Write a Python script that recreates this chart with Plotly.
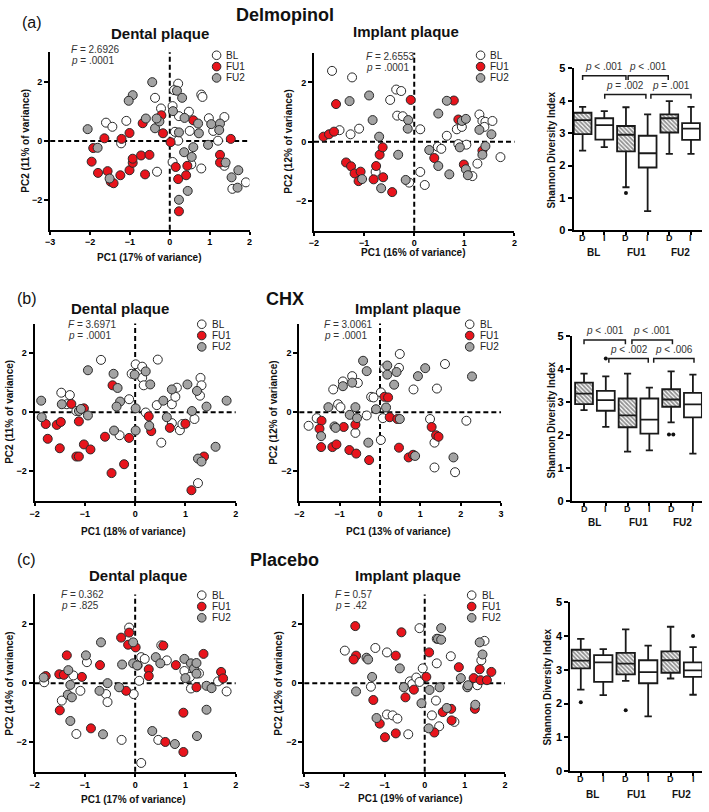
import plotly.graph_objects as go

W, H = 709, 812
FONT = "Arial, Liberation Sans, Helvetica, sans-serif"

# ---------------- scatter data (PC1, PC2) ----------------
a_dent_bl = [(-1.60,0.62),(-1.44,0.48),(-1.22,-0.08),(-1.09,0.68),(-0.37,1.46),(-0.22,1.10),(-0.32,-1.04),(0.21,1.94),(0.11,1.72),(0.07,1.18),(0.23,0.84),(0.13,0.31),(0.21,0.01),(0.48,0.99),(0.50,0.34),(0.79,1.57),(0.82,1.49),(0.98,0.77),(1.09,0.34),(1.21,0.01),(1.37,0.81),(0.79,-0.93),(0.07,-0.71),(0.54,-0.79),(1.37,-0.84),(1.57,-1.62),(1.91,-1.40)]
a_dent_fu1 = [(-1.64,0.09),(-1.92,-0.24),(-1.96,-0.70),(-1.80,-1.08),(-1.56,-1.02),(-1.48,-1.38),(-1.41,-1.43),(-1.24,-1.16),(-1.21,0.07),(-1.01,0.27),(-1.01,-0.99),(-0.93,-0.74),(-0.93,-0.60),(-0.72,-0.49),(-0.68,0.60),(-0.51,-0.47),(-0.62,-1.13),(-0.21,0.87),(-0.17,0.26),(0.02,-0.04),(0.15,-0.88),(0.21,-1.29),(0.41,-1.16),(0.44,-0.84),(0.59,0.70),(0.23,-2.38),(1.26,-0.47),(1.26,-0.73),(1.53,0.07)]
a_dent_fu2 = [(-0.44,1.99),(-0.93,1.55),(-1.03,1.36),(-2.06,0.40),(-1.81,-0.23),(-1.51,-1.27),(-0.60,0.76),(-0.37,0.43),(-0.26,0.66),(-0.33,0.76),(0.18,1.70),(0.08,1.01),(0.31,1.46),(0.37,0.78),(0.23,0.29),(0.59,-0.21),(0.36,-0.38),(0.55,-0.54),(0.23,-1.99),(0.45,-1.69),(0.71,0.59),(0.73,0.26),(0.96,-0.13),(1.04,0.57),(1.26,0.59),(1.24,0.37),(1.40,-0.73),(1.72,-0.99),(1.55,-1.23),(1.70,-1.58)]

a_impl_bl = [(-1.64,2.39),(-1.24,2.17),(-1.49,0.39),(-1.27,0.25),(-1.10,0.44),(-0.77,-1.02),(-0.48,1.41),(-0.36,1.76),(-0.26,1.71),(-0.34,0.88),(-0.23,0.86),(-0.10,-1.38),(0.12,0.42),(0.12,-1.02),(0.21,-1.46),(0.47,-0.17),(0.54,-0.24),(0.65,0.20),(0.85,0.42),(0.95,0.50),(1.04,-0.10),(1.16,-1.16),(1.26,-0.74),(1.30,0.92),(1.36,0.70),(1.42,0.67),(1.40,0.50),(1.56,0.70),(1.72,-0.52),(0.88,-0.08)]
a_impl_fu1 = [(-1.81,0.17),(-1.70,0.25),(-1.60,0.34),(-1.56,1.27),(-1.36,-0.70),(-1.26,-0.83),(-1.19,-1.07),(-1.07,-1.01),(-1.11,-1.33),(-0.76,-0.82),(-0.81,-1.27),(-0.62,-1.20),(-0.69,-0.44),(-0.63,-0.19),(-0.44,-1.70),(-0.07,1.41),(0.40,-0.55),(0.79,1.39),(0.88,0.75),(0.99,-0.77),(1.36,-0.30)]
a_impl_fu2 = [(-1.29,1.37),(-0.90,1.56),(-0.83,0.73),(-0.70,0.17),(-1.04,-1.26),(-0.66,-1.57),(-0.32,-0.44),(-0.12,0.73),(-0.13,0.44),(-0.17,-1.29),(0.30,-0.28),(0.48,-0.82),(0.48,0.95),(0.65,1.38),(0.70,-1.10),(0.95,0.70),(0.91,-0.19),(1.03,-0.93),(1.07,-1.13),(1.30,0.40),(1.36,-0.44),(1.42,-0.15),(1.54,0.25),(1.03,0.77)]

b_dent_bl = [(-1.47,0.66),(-1.36,0.27),(-1.30,0.58),(-1.17,0.04),(-0.68,1.77),(-0.31,-0.78),(-0.12,0.44),(-0.07,1.30),(0.01,1.62),(0.08,1.36),(0.14,1.54),(0.14,1.16),(0.17,0.91),(0.21,-0.01),(0.43,0.24),(0.45,1.78),(0.52,-1.03),(0.73,0.27),(0.80,0.52),(0.83,0.83),(0.73,-0.37),(0.89,-0.61),(0.94,-0.40),(1.18,-0.23),(1.29,0.56),(1.30,1.16),(1.32,0.91),(1.25,-2.40)]
b_dent_fu1 = [(-1.78,-0.40),(-1.74,-0.90),(-1.56,-0.43),(-1.48,-0.33),(-1.50,-1.22),(-1.27,0.28),(-1.17,-1.50),(-1.12,-1.50),(-1.12,-0.31),(-1.02,0.13),(-1.02,-1.09),(-0.89,-1.26),(-0.60,-0.83),(-0.45,0.91),(-0.47,-2.06),(-0.22,-1.76),(-0.12,-0.87),(0.27,-0.14),(0.32,-0.64),(0.69,-0.53),(1.00,-0.39),(1.12,-2.64),(1.37,-1.50)]
b_dent_fu2 = [(-1.87,0.39),(-1.86,-0.17),(-1.46,0.27),(-1.12,0.04),(-1.08,0.11),(-0.94,-0.11),(-0.94,1.42),(-0.43,1.30),(-0.35,0.82),(-0.30,0.36),(-0.37,0.19),(-0.42,-0.62),(0.01,0.13),(0.01,-0.62),(-0.01,1.27),(0.21,1.38),(0.30,0.94),(0.28,-0.46),(0.56,0.39),(0.63,-0.17),(0.73,0.77),(1.04,0.94),(1.13,0.04),(1.23,0.72),(1.42,0.19),(1.60,-1.17),(1.25,-1.57),(1.32,-1.67),(1.82,0.39)]

b_impl_bl = [(-1.77,-0.46),(-1.57,-0.20),(-1.16,0.77),(-1.04,0.27),(-0.98,0.17),(-0.92,1.04),(-0.69,1.22),(-0.55,0.99),(-0.61,-0.70),(-0.33,-0.11),(-0.22,0.52),(-0.16,0.50),(0.02,-0.94),(0.02,0.67),(0.07,-0.20),(0.11,1.49),(0.47,1.50),(0.49,1.97),(0.83,0.77),(1.41,0.80),(1.61,1.63),(1.24,-0.23),(1.35,-1.03),(1.35,-1.87),(1.86,-2.03),(2.14,-0.29)]
b_impl_fu1 = [(-1.45,-0.29),(-1.50,-0.56),(-1.46,-1.18),(-1.18,-1.18),(-1.08,-1.09),(-0.90,-0.50),(-0.76,-1.28),(-0.61,-0.42),(-0.59,-1.40),(-0.27,-1.62),(0.11,0.52),(0.20,0.50),(0.24,-0.17),(0.47,-1.20),(0.71,-1.53),(0.82,-1.44),(1.28,-0.50),(1.39,-0.78),(1.45,-0.83),(0.43,-0.23)]
b_impl_fu2 = [(-1.28,0.17),(-1.46,-0.81),(-1.13,-0.48),(-1.10,-0.53),(-0.92,0.88),(-0.69,1.00),(-0.42,1.74),(-0.33,1.39),(-0.61,0.17),(-0.75,-0.09),(-0.57,-0.20),(-0.29,-1.03),(-0.10,0.10),(0.15,0.16),(0.18,1.58),(0.18,1.27),(0.35,0.93),(0.41,1.36),(0.49,-0.23),(0.94,1.22),(1.12,1.49),(0.87,-1.48),(1.82,-1.53),(2.28,1.21)]

c_dent_bl = [(-1.81,0.03),(-1.23,0.26),(-1.46,-0.59),(-1.09,-0.26),(-0.96,0.71),(-1.17,-1.72),(-0.58,-0.37),(-0.55,-0.64),(-0.27,-1.92),(-0.03,-0.37),(-0.12,1.88),(0.05,0.60),(0.08,0.08),(0.12,0.88),(0.19,0.82),(0.12,-2.70),(0.52,1.28),(0.63,0.77),(0.46,-1.92),(0.98,0.41),(1.09,0.21),(1.11,-0.18),(1.27,0.33),(1.65,0.06),(1.82,-0.28)]
c_dent_fu1 = [(-1.78,0.24),(-1.36,0.94),(-1.51,0.30),(-1.42,0.28),(-1.50,-0.92),(-1.06,0.21),(-0.70,0.61),(-0.88,-1.53),(-0.28,1.54),(-0.12,1.71),(-0.14,1.30),(0.01,1.21),(-0.18,-0.26),(0.27,0.47),(0.27,0.24),(0.60,-1.99),(0.56,1.27),(0.81,0.61),(0.96,-1.00),(0.96,-2.33),(1.22,-0.14),(1.36,0.99),(1.71,0.38),(1.75,0.16)]
c_dent_fu2 = [(-1.82,0.19),(-1.33,0.44),(-1.29,-0.06),(-1.34,-0.39),(-1.26,-0.48),(-1.29,-1.28),(-0.98,0.94),(-0.68,1.38),(-0.71,-0.26),(-0.55,0.00),(-0.64,-1.73),(-0.26,0.63),(-0.32,-0.14),(-0.04,1.38),(-0.04,0.67),(0.04,0.60),(0.41,0.88),(0.50,0.67),(0.34,-1.62),(0.79,-2.06),(0.98,0.82),(1.00,0.17),(1.11,0.67),(1.17,0.49),(1.22,0.32),(1.23,-1.79),(1.42,-0.90),(1.42,-0.09),(1.52,-0.17),(1.22,0.68)]

c_impl_bl = [(-1.99,1.10),(-1.23,1.19),(-1.34,-0.12),(-0.94,1.04),(-0.94,-1.06),(-0.80,-1.09),(-0.68,-1.20),(-0.41,-1.73),(-0.37,0.06),(-0.31,-0.03),(-0.21,0.19),(-0.13,0.04),(-0.05,0.50),(-0.13,1.86),(0.30,1.50),(0.30,0.67),(0.28,-0.59),(0.18,-1.09),(0.36,-1.46),(0.65,0.91),(0.74,-1.31),(1.31,-0.07),(1.41,0.77),(1.49,1.43)]
c_impl_fu1 = [(-1.73,1.93),(-1.71,0.93),(-1.77,0.80),(-1.28,-0.57),(-1.12,-1.37),(-0.99,-1.83),(-0.72,0.93),(-0.72,-1.70),(-0.58,1.72),(-0.48,-0.48),(-0.27,-0.22),(0.04,0.21),(0.11,1.04),(0.24,-1.67),(0.45,-0.98),(0.66,-0.87),(0.67,-1.26),(0.85,0.54),(1.22,0.17),(1.25,-0.87),(1.37,0.47),(1.39,0.10),(1.55,0.10),(1.66,0.38)]
c_impl_fu2 = [(-1.45,0.86),(-1.41,0.80),(-1.31,0.21),(-1.71,-0.28),(-1.20,-1.18),(-0.62,0.50),(-0.52,-0.14),(-0.08,-0.68),(0.12,-0.23),(0.10,-1.53),(0.37,-0.14),(0.33,1.50),(0.41,1.47),(0.41,1.86),(0.55,-0.84),(0.90,0.17),(1.06,-0.14),(1.08,-0.07),(1.26,-0.73),(1.37,1.38),(1.44,0.97)]

# ---------------- boxplot data (Shannon diversity) ----------------
box_ticks = ["D", "I", "D", "I", "D", "I"]
box_groups = ["BL", "FU1", "FU2"]

a_lo  = [2.46, 2.57, 1.33, 0.59, 2.36, 2.36]
a_q1  = [2.97, 2.80, 2.44, 1.94, 3.02, 2.79]
a_med = [3.40, 3.25, 2.95, 2.38, 3.46, 3.14]
a_q3  = [3.63, 3.46, 3.22, 2.92, 3.58, 3.31]
a_hi  = [3.81, 3.68, 3.80, 3.58, 3.99, 3.81]
a_out_pos = [2]
a_out_val = [1.15]
a_br_left  = [0.0, 2.1, 1.02, 3.15]
a_br_right = [2.0, 3.95, 2.92, 5.0]
a_br_y     = [4.77, 4.77, 4.19, 4.19]
a_br_text  = ["<i>p</i> < .001", "<i>p</i> < .001", "<i>p</i> = .002", "<i>p</i> = .001"]

b_lo  = [2.76, 2.25, 1.50, 1.54, 2.39, 1.44]
b_q1  = [2.94, 2.74, 2.24, 2.05, 2.86, 2.54]
b_med = [3.26, 3.06, 2.60, 2.47, 3.08, 2.93]
b_q3  = [3.59, 3.34, 3.11, 3.11, 3.39, 3.28]
b_hi  = [3.86, 3.78, 3.86, 3.44, 3.93, 3.83]
b_out_pos = [1, 3.9, 4.1]
b_out_val = [4.32, 2.02, 2.02]
b_br_left  = [0.0, 2.2, 1.14, 3.2]
b_br_right = [1.9, 4.06, 2.95, 5.05]
b_br_y     = [4.88, 4.88, 4.32, 4.32]
b_br_text  = ["<i>p</i> < .001", "<i>p</i> < .001", "<i>p</i> < .002", "<i>p</i> < .006"]

c_lo  = [2.41, 2.25, 2.67, 1.62, 2.74, 2.26]
c_q1  = [3.04, 2.64, 2.86, 2.60, 2.91, 2.79]
c_med = [3.27, 3.22, 3.18, 2.93, 3.28, 2.98]
c_q3  = [3.59, 3.43, 3.50, 3.28, 3.54, 3.22]
c_hi  = [3.91, 3.61, 4.19, 3.71, 4.27, 3.67]
c_out_pos = [0, 2, 5]
c_out_val = [2.04, 1.80, 4.00]

# ---------------- text ----------------
row_titles = ["Delmopinol", "CHX", "Placebo"]
row_letters = ["(a)", "(b)", "(c)"]
stats_F = ["2.6926", "2.6553", "3.6971", "3.0061", "0.362", "0.57"]
stats_p = [".0001", ".0001", ".0001", ".0001", ".825", ".42"]
pc1_labels = ["PC1 (17% of variance)", "PC1 (16% of variance)", "PC1 (18% of variance)",
              "PC1 (13% of variance)", "PC1 (17% of variance)", "PC1 (19% of variance)"]
pc2_labels = ["PC2 (11% of variance)", "PC2 (12% of variance)", "PC2 (11% of variance)",
              "PC2 (12% of variance)", "PC2 (14% of variance)", "PC2 (12% of variance)"]
groups = ["BL", "FU1", "FU2"]
colors = ["#ffffff", "#e8141c", "#a3a3a3"]


def fx(p):
    return p / W


def fy(p):
    return 1 - p / H


fig = go.Figure()
layout = {}
annotations = []
shapes = []

scatter_panels = [
    dict(data=(a_dent_bl, a_dent_fu1, a_dent_fu2), xd=(45.7, 247.3), yd=(47, 227), xr=(-3, 2),
         title="Dental plaque", tpos=(157, 28), fpos=(65, 44), lpos=(214, 50), pc1=(146, 255), pc2=(21, 137)),
    dict(data=(a_impl_bl, a_impl_fu1, a_impl_fu2), xd=(312.5, 515.3), yd=(47.5, 228), xr=(-2, 2),
         title="Implant plaque", tpos=(406, 26), fpos=(363, 51), lpos=(481, 50), pc1=(413, 250), pc2=(287, 137)),
    dict(data=(b_dent_bl, b_dent_fu1, b_dent_fu2), xd=(30, 233.3), yd=(322.3, 502.3), xr=(-2, 2),
         title="Dental plaque", tpos=(116, 307), fpos=(62, 323), lpos=(199, 323), pc1=(130, 533), pc2=(5, 412)),
    dict(data=(b_impl_bl, b_impl_fu1, b_impl_fu2), xd=(297.7, 501.7), yd=(322.3, 502.3), xr=(-2, 3),
         title="Implant plaque", tpos=(408, 307), fpos=(321, 323), lpos=(470, 323), pc1=(398, 533), pc2=(272, 412)),
    dict(data=(c_dent_bl, c_dent_fu1, c_dent_fu2), xd=(30, 233.3), yd=(597.3, 777.3), xr=(-2, 2),
         title="Dental plaque", tpos=(135, 578), fpos=(55, 597), lpos=(199, 598), pc1=(130, 805), pc2=(5, 687)),
    dict(data=(c_impl_bl, c_impl_fu1, c_impl_fu2), xd=(302.7, 505.7), yd=(597.3, 777.3), xr=(-3, 2),
         title="Implant plaque", tpos=(408, 578), fpos=(332, 597), lpos=(472, 598), pc1=(410, 804), pc2=(277, 687)),
]

axis_common = dict(showgrid=False, zeroline=False, showline=True, linecolor="black", linewidth=2,
                   ticks="outside", ticklen=4, tickwidth=2, tickcolor="black",
                   tickfont=dict(family=FONT, size=9, color="black", weight="bold"))

for i, p in enumerate(scatter_panels):
    n = i + 1
    xa = f"xaxis{n}" if n > 1 else "xaxis"
    ya = f"yaxis{n}" if n > 1 else "yaxis"
    xr_ = f"x{n}" if n > 1 else "x"
    yr_ = f"y{n}" if n > 1 else "y"
    layout[xa] = dict(axis_common, domain=[fx(p["xd"][0]), fx(p["xd"][1])], range=list(p["xr"]),
                      tickvals=list(range(p["xr"][0], p["xr"][1] + 1)), anchor=yr_, ticklen=3)
    layout[ya] = dict(axis_common, domain=[fy(p["yd"][1]), fy(p["yd"][0])], range=[-3, 3],
                      tickvals=[-2, 0, 2], anchor=xr_)
    for g, col, pts in zip(groups, colors, p["data"]):
        fig.add_trace(go.Scatter(
            x=[q[0] for q in pts], y=[q[1] for q in pts], mode="markers", name=g, showlegend=False,
            marker=dict(size=9, color=col, line=dict(color="#2a2a2a", width=1)),
            xaxis=xr_, yaxis=yr_))
    shapes.append(dict(type="line", xref=xr_, yref=f"{yr_} domain", x0=0, x1=0, y0=0, y1=1,
                       line=dict(color="black", width=2, dash="5px,3px"), layer="below"))
    shapes.append(dict(type="line", xref=f"{xr_} domain", yref=yr_, x0=0, x1=1, y0=0, y1=0,
                       line=dict(color="black", width=2, dash="5px,3px"), layer="below"))
    annotations.append(dict(text=f"<b>{p['title']}</b>", x=fx(p["tpos"][0]), y=fy(p["tpos"][1]),
                            xref="paper", yref="paper", showarrow=False, xanchor="center", yanchor="middle",
                            font=dict(family=FONT, size=15, color="#111")))
    annotations.append(dict(text=f"<i>F</i> = {stats_F[i]}", x=fx(p["fpos"][0]), y=fy(p["fpos"][1]),
                            xref="paper", yref="paper", showarrow=False, xanchor="left", yanchor="middle",
                            font=dict(family=FONT, size=10, color="#333")))
    annotations.append(dict(text=f"<i>p</i> = {stats_p[i]}", x=fx(p["fpos"][0]), y=fy(p["fpos"][1] + 11.5),
                            xref="paper", yref="paper", showarrow=False, xanchor="left", yanchor="middle",
                            font=dict(family=FONT, size=10, color="#333")))
    annotations.append(dict(text=f"<b>{pc1_labels[i]}</b>", x=fx(p["pc1"][0]), y=fy(p["pc1"][1]),
                            xref="paper", yref="paper", showarrow=False, xanchor="center", yanchor="middle",
                            font=dict(family=FONT, size=10, color="#111")))
    annotations.append(dict(text=f"<b>{pc2_labels[i]}</b>", x=fx(p["pc2"][0]), y=fy(p["pc2"][1]),
                            xref="paper", yref="paper", showarrow=False, xanchor="center", yanchor="middle",
                            textangle=-90, font=dict(family=FONT, size=10, color="#111")))
    for k, (g, col) in enumerate(zip(groups, colors)):
        cx, cy = p["lpos"][0], p["lpos"][1] + k * 11.5
        shapes.append(dict(type="circle", xref="paper", yref="paper", xsizemode="pixel", ysizemode="pixel",
                           xanchor=fx(cx), yanchor=fy(cy), x0=-4.3, x1=4.3, y0=-4.3, y1=4.3,
                           fillcolor=col, line=dict(color="#2a2a2a", width=1)))
        annotations.append(dict(text=g, x=fx(cx + 8), y=fy(cy), xref="paper", yref="paper", showarrow=False,
                                xanchor="left", yanchor="middle", font=dict(family=FONT, size=10, color="#222")))

box_panels = [
    dict(stats=(a_lo, a_q1, a_med, a_q3, a_hi), out=(a_out_pos, a_out_val),
         br=(a_br_left, a_br_right, a_br_y, a_br_text), xd=(575, 705), yd=(63.3, 227.7), xr=(-0.42, 5.51),
         ytitle=(553, 146), tlab=235, glab=250),
    dict(stats=(b_lo, b_q1, b_med, b_q3, b_hi), out=(b_out_pos, b_out_val),
         br=(b_br_left, b_br_right, b_br_y, b_br_text), xd=(573.3, 705), yd=(335, 502.7), xr=(-0.56, 5.42),
         ytitle=(553, 420), tlab=511, glab=524),
    dict(stats=(c_lo, c_q1, c_med, c_q3, c_hi), out=(c_out_pos, c_out_val),
         br=None, xd=(571.7, 705), yd=(605, 776.7), xr=(-0.47, 5.4),
         ytitle=(549, 691), tlab=785, glab=800),
]

positions = list(range(len(box_ticks)))
for j, b in enumerate(box_panels):
    n = 7 + j
    xr_, yr_ = f"x{n}", f"y{n}"
    layout[f"xaxis{n}"] = dict(axis_common, domain=[fx(b["xd"][0]), fx(b["xd"][1])], range=list(b["xr"]),
                               tickvals=positions, showticklabels=False, ticklen=3, anchor=yr_)
    layout[f"yaxis{n}"] = dict(axis_common, domain=[fy(b["yd"][1]), fy(b["yd"][0])], range=[0, 5],
                               tickvals=[0, 1, 2, 3, 4, 5], anchor=xr_)
    layout[f"yaxis{n}"]["tickfont"] = dict(family=FONT, size=11, color="black", weight="bold")
    lo, q1, med, q3, hi = b["stats"]
    d_idx = [k for k, t in enumerate(box_ticks) if t == "D"]
    fig.add_trace(go.Bar(
        x=[positions[k] for k in d_idx], y=[q3[k] - q1[k] for k in d_idx], base=[q1[k] for k in d_idx],
        width=0.82, showlegend=False, hoverinfo="skip",
        marker=dict(color="#ffffff", line=dict(width=0),
                    pattern=dict(shape="\\", fgcolor="#262626", bgcolor="#ffffff", size=3, solidity=0.6)),
        xaxis=xr_, yaxis=yr_))
    fig.add_trace(go.Box(
        x=positions, q1=q1, median=med, q3=q3, lowerfence=lo, upperfence=hi,
        width=0.82, whiskerwidth=0.4, boxpoints=False, showlegend=False,
        fillcolor="rgba(0,0,0,0)", line=dict(color="#1a1a1a", width=1.8),
        xaxis=xr_, yaxis=yr_))
    fig.add_trace(go.Scatter(
        x=b["out"][0], y=b["out"][1], mode="markers", showlegend=False,
        marker=dict(size=4, color="#111"), xaxis=xr_, yaxis=yr_))
    if b["br"]:
        bl, brr, by, bt = b["br"]
        for x0, x1, yv, txt in zip(bl, brr, by, bt):
            fig.add_trace(go.Scatter(
                x=[x0, x0, x1, x1], y=[yv - 0.13, yv, yv, yv - 0.13], mode="lines", showlegend=False,
                line=dict(color="#1a1a1a", width=1.5), xaxis=xr_, yaxis=yr_, cliponaxis=False))
            annotations.append(dict(text=txt, x=(x0 + x1) / 2, y=yv + 0.06, xref=xr_, yref=yr_,
                                    showarrow=False, xanchor="center", yanchor="bottom",
                                    font=dict(family=FONT, size=10, color="#333")))
    annotations.append(dict(text="<b>Shannon Diversity Index</b>", x=fx(b["ytitle"][0]), y=fy(b["ytitle"][1]),
                            xref="paper", yref="paper", showarrow=False, textangle=-90,
                            xanchor="center", yanchor="middle", font=dict(family=FONT, size=10, color="#111")))
    for pos, t in zip(positions, box_ticks):
        annotations.append(dict(text=f"<b>{t}</b>", x=pos, y=fy(b["tlab"]), xref=xr_, yref="paper",
                                showarrow=False, xanchor="center", yanchor="middle",
                                font=dict(family=FONT, size=9, color="#111")))
    for g_i, g in enumerate(box_groups):
        annotations.append(dict(text=f"<b>{g}</b>", x=2 * g_i + 0.5, y=fy(b["glab"]), xref=xr_, yref="paper",
                                showarrow=False, xanchor="center", yanchor="middle",
                                font=dict(family=FONT, size=10, color="#111")))

row_title_y = [9, 297, 562]
row_letter_pos = [(27, 17), (22, 297), (22, 562)]
for r in range(3):
    annotations.append(dict(text=f"<b>{row_titles[r]}</b>", x=fx(283), y=fy(row_title_y[r]), xref="paper",
                            yref="paper", showarrow=False, xanchor="center", yanchor="middle",
                            font=dict(family=FONT, size=18, color="#111")))
    annotations.append(dict(text=row_letters[r], x=fx(row_letter_pos[r][0]), y=fy(row_letter_pos[r][1]),
                            xref="paper", yref="paper", showarrow=False, xanchor="center", yanchor="middle",
                            font=dict(family=FONT, size=16, color="#111")))

fig.update_layout(
    width=W, height=H, margin=dict(l=0, r=0, t=0, b=0),
    paper_bgcolor="white", plot_bgcolor="white",
    showlegend=False, barmode="overlay",
    annotations=annotations, shapes=shapes,
    font=dict(family=FONT),
    **layout)

fig.write_html("out.html", config={"displayModeBar": False},
               post_script="document.body.style.margin='0px';document.body.style.overflow='hidden';")
